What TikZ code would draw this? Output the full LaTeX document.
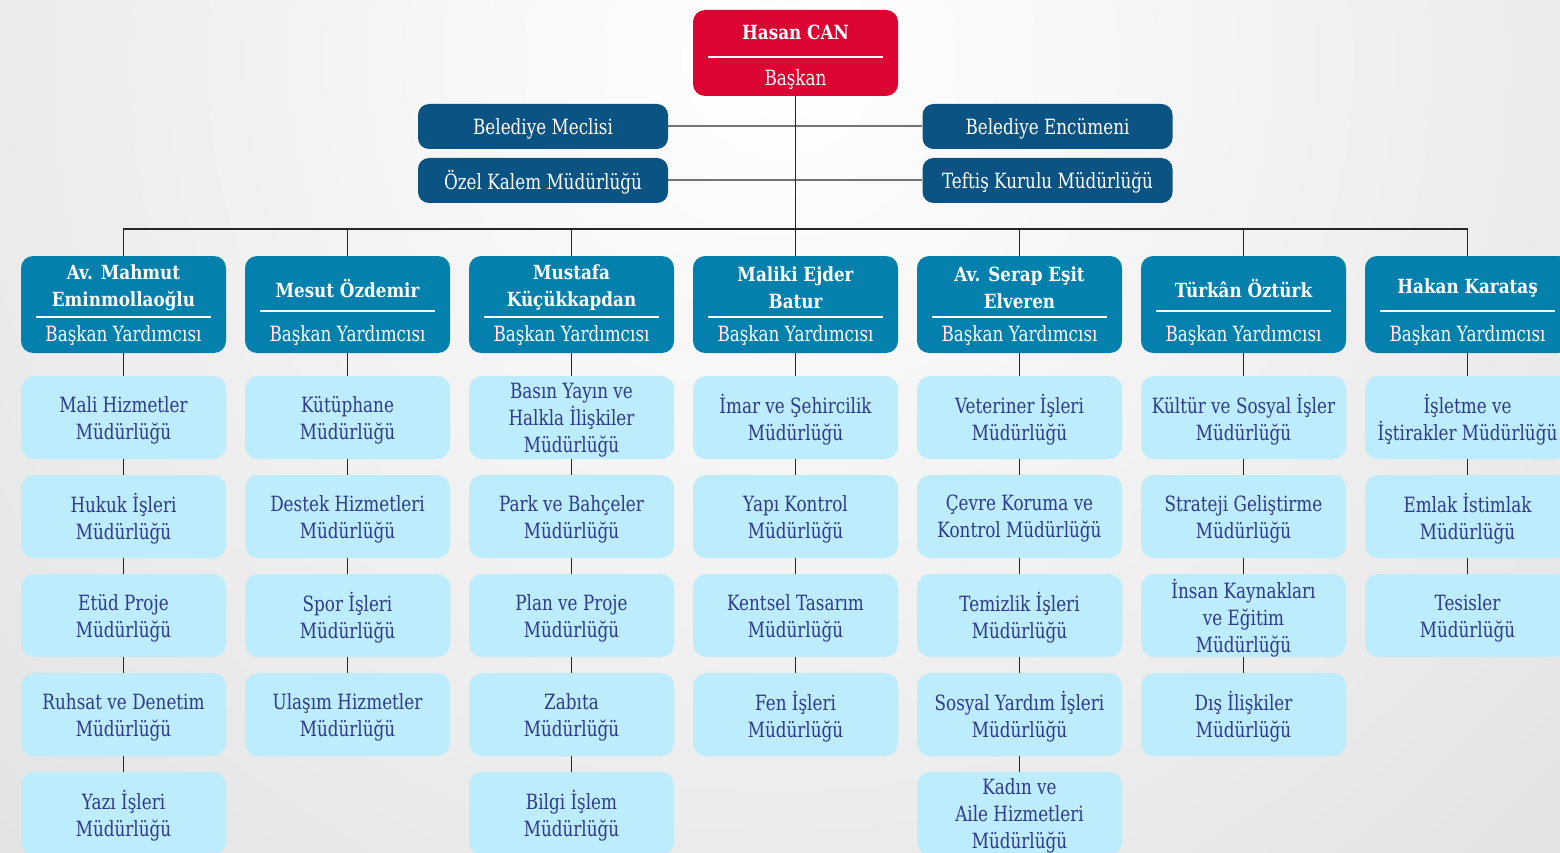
\documentclass[tikz,border=0pt]{standalone}
\usepackage{fontspec}
\setmainfont{DejaVu Serif}[FakeStretch=0.8]
\newfontfamily\namefont{DejaVu Serif}[FakeStretch=0.86]
\definecolor{presred}{HTML}{DC0433}
\definecolor{sideblue}{HTML}{0A5382}
\definecolor{vpblue}{HTML}{0480AD}
\definecolor{deptbg}{HTML}{BDECFC}
\definecolor{depttext}{HTML}{2E3A8C}
\definecolor{bgouter}{HTML}{D4D4D4}
\tikzset{
  presbox/.style={fill=presred, rounded corners=12pt, minimum width=205pt, minimum height=86pt, inner sep=0pt},
  sidebox/.style={fill=sideblue, rounded corners=11pt, minimum width=250pt, minimum height=45pt, inner sep=0pt},
  sidetext/.style={text=white, inner sep=0pt, font=\fontsize{21}{26}\selectfont},
  vpbox/.style={fill=vpblue, rounded corners=12pt, minimum width=205pt, minimum height=97pt, inner sep=0pt},
  vpname/.style={text=white, align=center, inner sep=0pt, font=\namefont\bfseries\fontsize{19.5}{27}\selectfont},
  vptitle/.style={text=white, inner sep=0pt, font=\fontsize{21}{26}\selectfont},
  sepline/.style={draw=white, line width=1.3pt},
  dbox/.style={fill=deptbg, rounded corners=13pt, minimum width=205pt, minimum height=83pt, inner sep=0pt},
  dtext/.style={text=depttext, align=center, inner sep=0pt, font=\fontsize{21}{27}\selectfont},
  link/.style={draw=black!85, line width=1.3pt},
  sidelink/.style={draw=black!55, line width=2pt},
}
\newcommand\vpnode[5]{%
  \node[vpbox] (#1) at (#2,304.5) {};
  \node[vpname] (#1n) at (#2,#4) {#3};
  \draw[sepline] (#2-87.5,#5) -- (#2+87.5,#5);
  \node[vptitle] (#1t) at (#2,335.5) {Başkan Yardımcısı};
}
\newcommand\dept[4]{%
  \node[dbox] (#1) at (#2,#3) {};
  \node[dtext] (#1x) at (#2,#3+2.5) {#4};
}
\newcommand\sidenode[4]{%
  \node[sidebox] (#1) at (#2,#3) {};
  \node[sidetext] (#1x) at (#2,#3+2) {#4};
}
\begin{document}
\begin{tikzpicture}[x=1pt,y=-1pt]
\useasboundingbox (0,0) rectangle (1560,853);
\begin{scope}
\clip (0,0) rectangle (1560,853);
\shade[inner color=white, outer color=bgouter] (780-1700,60-1700) rectangle (780+1700,60+1700);

% president
\node[presbox] (pres) at (795.5,53) {};
\node[text=white, inner sep=0pt, font=\namefont\bfseries\fontsize{19.5}{24}\selectfont] (presn) at (795.5,32) {Hasan CAN};
\draw[sepline] (708,57) -- (883,57);
\node[text=white, inner sep=0pt, font=\fontsize{21}{26}\selectfont] (prest) at (795.5,79.5) {Başkan};

% side boxes
\sidenode{meclis}{543}{126.5}{Belediye Meclisi}
\sidenode{ozel}{543}{180.5}{Özel Kalem Müdürlüğü}
\sidenode{encumen}{1047.5}{126.5}{Belediye Encümeni}
\sidenode{teftis}{1047.5}{180.5}{Teftiş Kurulu Müdürlüğü}
\draw[sidelink] (meclis.east) -- (encumen.west);
\draw[sidelink] (ozel.east) -- (teftis.west);

% vice presidents
\vpnode{v1}{123.5}{Av. Mahmut\\Eminmollaoğlu}{287.5}{317}
\vpnode{v2}{347.5}{Mesut Özdemir}{288}{311}
\vpnode{v3}{571.5}{Mustafa\\Küçükkapdan}{287.5}{317}
\vpnode{v4}{795.5}{Maliki Ejder\\Batur}{287.5}{317}
\vpnode{v5}{1019.5}{Av. Serap Eşit\\Elveren}{287.5}{317}
\vpnode{v6}{1243.5}{Türkân Öztürk}{288}{311}
\vpnode{v7}{1467.5}{Hakan Karataş}{288}{311}

% trunk and bus
\coordinate (bus) at (795.5,229);
\draw[link] (pres.south) -- (v4.north);
\draw[link] (v1.north) -- (v1.north |- bus) -- (v7.north |- bus) -- (v7.north);
\foreach \v in {v2,v3,v5,v6} \draw[link] (\v.north) -- (\v.north |- bus);

% column 1
\dept{d11}{123.5}{417.5}{Mali Hizmetler\\Müdürlüğü}
\dept{d12}{123.5}{516.5}{Hukuk İşleri\\Müdürlüğü}
\dept{d13}{123.5}{615.5}{Etüd Proje\\Müdürlüğü}
\dept{d14}{123.5}{714.5}{Ruhsat ve Denetim\\Müdürlüğü}
\dept{d15}{123.5}{813.5}{Yazı İşleri\\Müdürlüğü}
% column 2
\dept{d21}{347.5}{417.5}{Kütüphane\\Müdürlüğü}
\dept{d22}{347.5}{516.5}{Destek Hizmetleri\\Müdürlüğü}
\dept{d23}{347.5}{615.5}{Spor İşleri\\Müdürlüğü}
\dept{d24}{347.5}{714.5}{Ulaşım Hizmetler\\Müdürlüğü}
% column 3
\dept{d31}{571.5}{417.5}{Basın Yayın ve\\Halkla İlişkiler\\Müdürlüğü}
\dept{d32}{571.5}{516.5}{Park ve Bahçeler\\Müdürlüğü}
\dept{d33}{571.5}{615.5}{Plan ve Proje\\Müdürlüğü}
\dept{d34}{571.5}{714.5}{Zabıta\\Müdürlüğü}
\dept{d35}{571.5}{813.5}{Bilgi İşlem\\Müdürlüğü}
% column 4
\dept{d41}{795.5}{417.5}{İmar ve Şehircilik\\Müdürlüğü}
\dept{d42}{795.5}{516.5}{Yapı Kontrol\\Müdürlüğü}
\dept{d43}{795.5}{615.5}{Kentsel Tasarım\\Müdürlüğü}
\dept{d44}{795.5}{714.5}{Fen İşleri\\Müdürlüğü}
% column 5
\dept{d51}{1019.5}{417.5}{Veteriner İşleri\\Müdürlüğü}
\dept{d52}{1019.5}{516.5}{Çevre Koruma ve\\Kontrol Müdürlüğü}
\dept{d53}{1019.5}{615.5}{Temizlik İşleri\\Müdürlüğü}
\dept{d54}{1019.5}{714.5}{Sosyal Yardım İşleri\\Müdürlüğü}
\dept{d55}{1019.5}{813.5}{Kadın ve\\Aile Hizmetleri\\Müdürlüğü}
% column 6
\dept{d61}{1243.5}{417.5}{Kültür ve Sosyal İşler\\Müdürlüğü}
\dept{d62}{1243.5}{516.5}{Strateji Geliştirme\\Müdürlüğü}
\dept{d63}{1243.5}{615.5}{İnsan Kaynakları\\ve Eğitim\\Müdürlüğü}
\dept{d64}{1243.5}{714.5}{Dış İlişkiler\\Müdürlüğü}
% column 7
\dept{d71}{1467.5}{417.5}{İşletme ve\\İştirakler Müdürlüğü}
\dept{d72}{1467.5}{516.5}{Emlak İstimlak\\Müdürlüğü}
\dept{d73}{1467.5}{615.5}{Tesisler\\Müdürlüğü}

% column connectors
\draw[link] (v1.south) -- (d11.north) (d11.south) -- (d12.north) (d12.south) -- (d13.north) (d13.south) -- (d14.north) (d14.south) -- (d15.north);
\draw[link] (v2.south) -- (d21.north) (d21.south) -- (d22.north) (d22.south) -- (d23.north) (d23.south) -- (d24.north);
\draw[link] (v3.south) -- (d31.north) (d31.south) -- (d32.north) (d32.south) -- (d33.north) (d33.south) -- (d34.north) (d34.south) -- (d35.north);
\draw[link] (v4.south) -- (d41.north) (d41.south) -- (d42.north) (d42.south) -- (d43.north) (d43.south) -- (d44.north);
\draw[link] (v5.south) -- (d51.north) (d51.south) -- (d52.north) (d52.south) -- (d53.north) (d53.south) -- (d54.north) (d54.south) -- (d55.north);
\draw[link] (v6.south) -- (d61.north) (d61.south) -- (d62.north) (d62.south) -- (d63.north) (d63.south) -- (d64.north);
\draw[link] (v7.south) -- (d71.north) (d71.south) -- (d72.north) (d72.south) -- (d73.north);
\end{scope}
\end{tikzpicture}
\end{document}
